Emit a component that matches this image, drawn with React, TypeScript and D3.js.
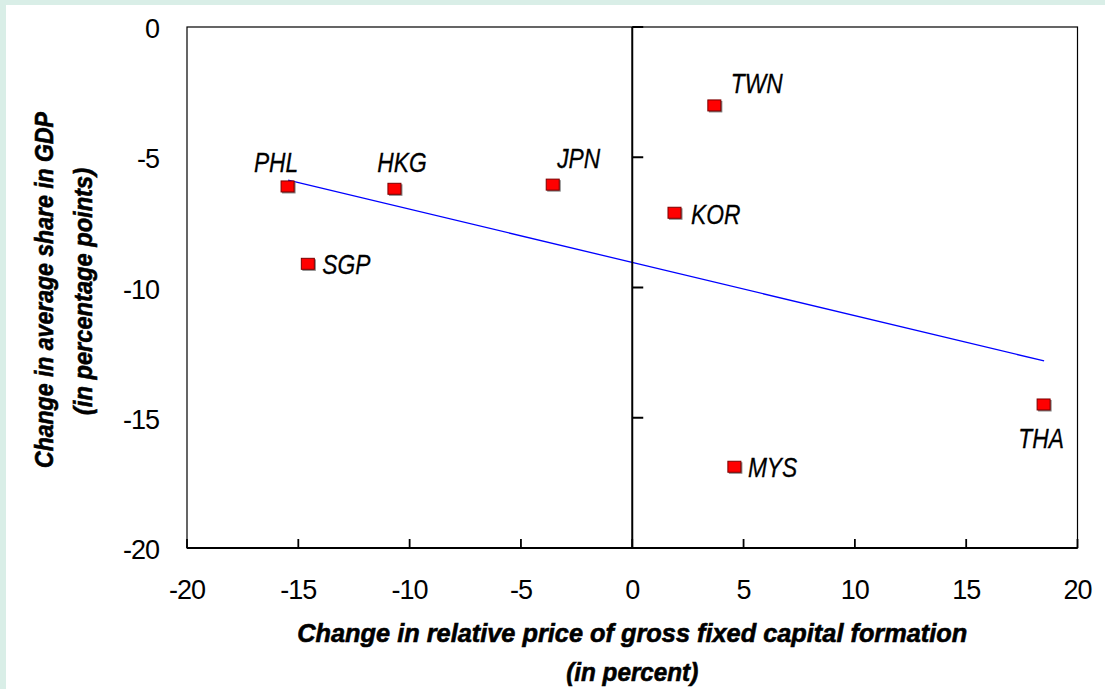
import React from 'react';
import * as d3 from 'd3';

// values
const countries = ['PHL', 'HKG', 'JPN', 'SGP', 'TWN', 'KOR', 'MYS', 'THA'];
const priceChange = [-15.46, -10.66, -3.55, -14.55, 3.71, 1.92, 4.61, 18.5];
const gdpShareChange = [-6.14, -6.23, -6.07, -9.11, -3.03, -7.15, -16.9, -14.51];
const xTicks = [-20, -15, -10, -5, 0, 5, 10, 15, 20];
const yTicks = [0, -5, -10, -15, -20];

// where each country label sits relative to its marker
const labelPlacement: Record<string, { anchor: string; dx: number; dy: number }> = {
  PHL: { anchor: 'middle', dx: -12, dy: -14.5 },
  HKG: { anchor: 'middle', dx: 7, dy: -17.5 },
  JPN: { anchor: 'start', dx: 4, dy: -17 },
  SGP: { anchor: 'start', dx: 14, dy: 9.5 },
  TWN: { anchor: 'start', dx: 16, dy: -13 },
  KOR: { anchor: 'start', dx: 16, dy: 11 },
  MYS: { anchor: 'start', dx: 13, dy: 10 },
  THA: { anchor: 'middle', dx: -3, dy: 43 },
};

const width = 1105;
const height = 689;
const plot = { left: 187, right: 1077.5, top: 27, bottom: 548 };

const sans = '"Liberation Sans", Arial, sans-serif';

// condensed bold italic title line, squeezed to the width seen in the reference
function Title({ x, y, len, rotate, children }: any) {
  return (
    <g transform={`translate(${x},${y})${rotate ? ' rotate(-90)' : ''}`}>
      <text
        textAnchor="middle"
        fontFamily={sans}
        fontStyle="italic"
        fontWeight="bold"
        fontSize={26}
        textLength={len}
        lengthAdjust="spacingAndGlyphs"
        fill="#000"
        stroke="#000"
        strokeWidth={0.6}
      >
        {children}
      </text>
    </g>
  );
}

export default function App() {
  const x = d3.scaleLinear().domain([-20, 20]).range([plot.left, plot.right]);
  const y = d3.scaleLinear().domain([-20, 0]).range([plot.bottom, plot.top]);

  const points = countries.map((name, i) => ({ name, px: priceChange[i], gy: gdpShareChange[i] }));

  // least squares trend through the points
  const mx = d3.mean(priceChange) as number;
  const my = d3.mean(gdpShareChange) as number;
  const slope =
    d3.sum(points, (p) => (p.px - mx) * (p.gy - my)) / d3.sum(points, (p) => (p.px - mx) ** 2);
  const intercept = my - slope * mx;
  const [xMin, xMax] = d3.extent(priceChange) as [number, number];
  const trend = d3
    .line<number>()
    .x((v) => x(v))
    .y((v) => y(intercept + slope * v))([xMin, xMax]);

  const x0 = x(0);
  const cx = (plot.left + plot.right) / 2;

  return (
    <svg
      width={width}
      height={height}
      style={{ position: 'absolute', left: 0, top: 0, display: 'block' }}
    >
      <rect x={0} y={0} width={width} height={height} fill="#d9eee7" />
      <rect x={6} y={5} width={width - 6} height={height - 5} fill="#ffffff" />

      {/* plot frame */}
      <rect
        x={plot.left}
        y={plot.top}
        width={plot.right - plot.left}
        height={plot.bottom - plot.top}
        fill="none"
        stroke="#000"
        strokeWidth={1.2}
      />

      {/* trend line */}
      <path d={trend ?? ''} fill="none" stroke="#0000ff" strokeWidth={1.3} />

      {/* vertical axis through x = 0 */}
      <line x1={x0} x2={x0} y1={plot.top} y2={plot.bottom} stroke="#000" strokeWidth={2} />
      {yTicks.map((t) => (
        <line key={'yt' + t} x1={x0} x2={x0 + 11} y1={y(t)} y2={y(t)} stroke="#000" strokeWidth={2} />
      ))}

      {/* horizontal axis at the bottom */}
      <line x1={plot.left} x2={plot.right} y1={plot.bottom} y2={plot.bottom} stroke="#000" strokeWidth={2.2} />
      {xTicks.map((t) => (
        <line key={'xt' + t} x1={x(t)} x2={x(t)} y1={plot.bottom} y2={plot.bottom - 9} stroke="#000" strokeWidth={1.8} />
      ))}

      {/* tick labels */}
      {yTicks.map((t) => (
        <text
          key={'yl' + t}
          x={159}
          y={y(t) + 11}
          textAnchor="end"
          fontFamily={sans}
          fontSize={27}
          letterSpacing={-1}
          fill="#000"
        >
          {t}
        </text>
      ))}
      {xTicks.map((t) => (
        <text
          key={'xl' + t}
          x={x(t)}
          y={599}
          textAnchor="middle"
          fontFamily={sans}
          fontSize={27}
          letterSpacing={-1}
          fill="#000"
        >
          {t}
        </text>
      ))}

      {/* markers */}
      {points.map((p) => (
        <g key={p.name} transform={`translate(${x(p.px)},${y(p.gy)})`}>
          <rect x={-6} y={-5} width={13.5} height={11.5} fill="#808080" />
          <rect x={-7} y={-6} width={13} height={11} fill="#ff0000" stroke="#7a0000" strokeWidth={1} />
        </g>
      ))}

      {/* country labels */}
      {points.map((p) => {
        const lp = labelPlacement[p.name];
        return (
          <g
            key={'lab' + p.name}
            transform={`translate(${x(p.px) + lp.dx},${y(p.gy) + lp.dy}) scale(0.8,1)`}
          >
            <text
              textAnchor={lp.anchor}
              fontFamily={sans}
              fontStyle="italic"
              fontSize={28.5}
              fill="#000"
              stroke="#000"
              strokeWidth={0.3}
            >
              {p.name}
            </text>
          </g>
        );
      })}

      {/* axis titles */}
      <Title x={cx} y={642} len={670}>
        Change in relative price of gross fixed capital formation
      </Title>
      <Title x={cx} y={681} len={132}>
        (in percent)
      </Title>
      <Title x={53} y={290} len={356} rotate>
        Change in average share in GDP
      </Title>
      <Title x={92} y={291.5} len={247} rotate>
        (in percentage points)
      </Title>
    </svg>
  );
}
